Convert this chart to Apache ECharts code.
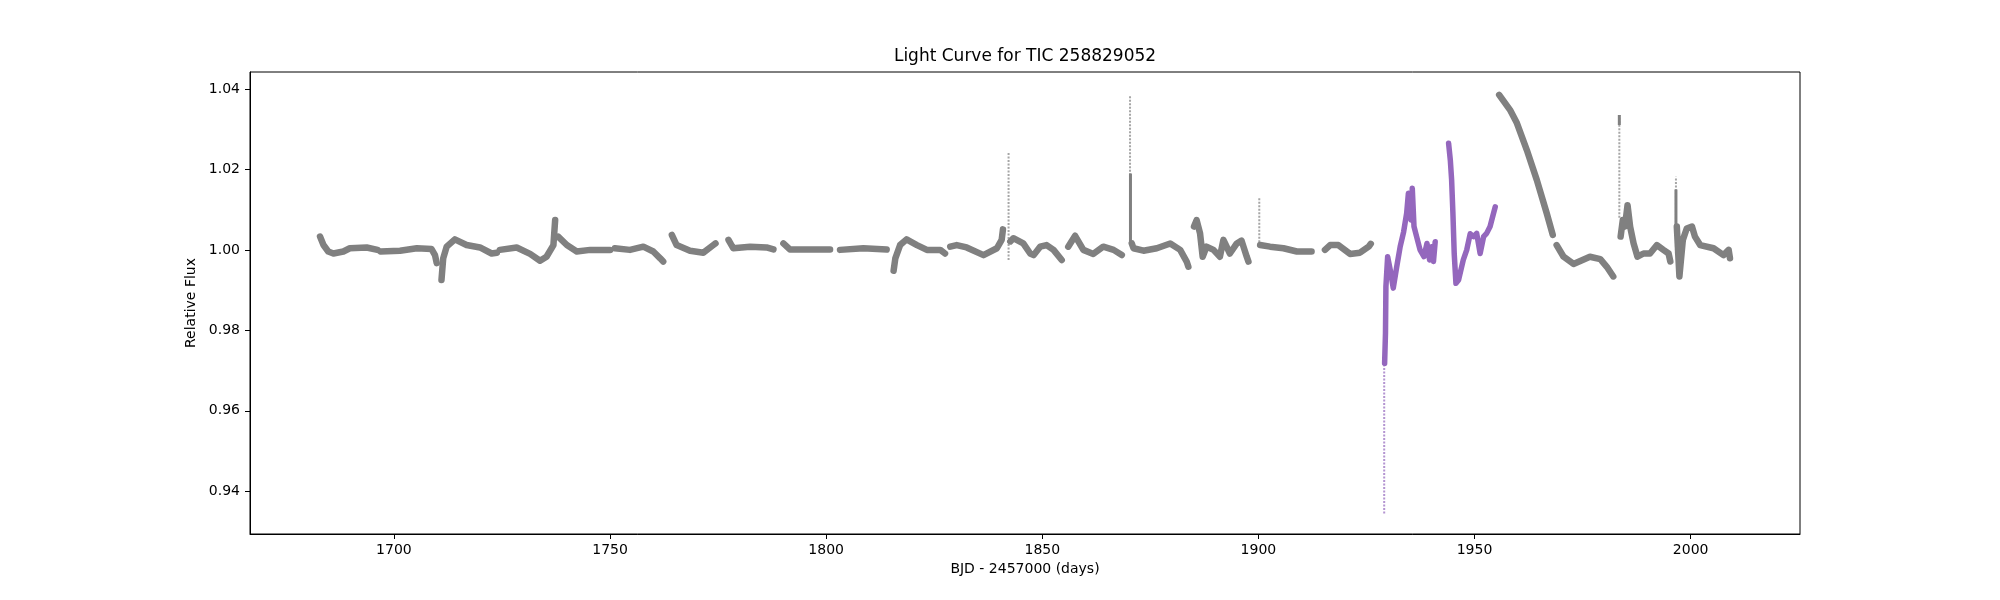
<!DOCTYPE html>
<html>
<head>
<meta charset="utf-8">
<script src="https://cdn.jsdelivr.net/npm/echarts@6/dist/echarts.min.js"></script>
<style>
  html, body { margin: 0; padding: 0; background: #fff; }
  #main { width: 2000px; height: 600px; }
</style>
</head>
<body>
<div id="main"></div>
<script>
// sectors of the light curve, [BJD - 2457000, relative flux]
const segA = [[1682.9, 1.0033], [1683.7, 1.0012], [1684.8, 0.9996], [1686.0, 0.9991], [1688.3, 0.9996], [1689.8, 1.0004], [1693.7, 1.0006], [1696.2, 1.0000]];
const segB = [[1696.9, 0.9996], [1701.4, 0.9998], [1705.3, 1.0004], [1708.7, 1.0002], [1709.5, 0.9987], [1709.9, 0.9967]];
const segC = [[1711.0, 0.9925], [1711.4, 0.9979], [1712.2, 1.0008], [1714.1, 1.0026], [1716.8, 1.0012], [1719.9, 1.0006], [1722.6, 0.9991], [1723.8, 0.9993]];
const segD = [[1724.5, 1.0000], [1728.4, 1.0006], [1731.5, 0.9990], [1733.8, 0.9973], [1735.3, 0.9983], [1736.9, 1.0012], [1737.3, 1.0074]];
const segE = [[1738.0, 1.0033], [1740.0, 1.0012], [1742.3, 0.9996], [1745.4, 1.0000], [1750.0, 1.0000]];
const segF = [[1751.1, 1.0004], [1754.6, 1.0000], [1757.7, 1.0008], [1760.0, 0.9996], [1761.6, 0.9979], [1762.3, 0.9971]];
const segG = [[1764.3, 1.0037], [1765.4, 1.0012], [1768.5, 0.9998], [1771.6, 0.9993], [1773.9, 1.0012], [1774.4, 1.0016]];
const segH = [[1777.4, 1.0025], [1778.5, 1.0004], [1782.4, 1.0008], [1786.2, 1.0006], [1787.8, 1.0001]];
const segI = [[1790.1, 1.0016], [1791.6, 1.0001], [1796.3, 1.0001], [1800.9, 1.0001]];
const segJ = [[1803.2, 1.0000], [1808.6, 1.0004], [1814.0, 1.0001]];
const segK = [[1815.6, 0.9948], [1816.0, 0.9979], [1817.1, 1.0012], [1818.6, 1.0026], [1821.0, 1.0012], [1823.3, 1.0000], [1826.4, 1.0000], [1827.5, 0.9991]];
const segL = [[1828.7, 1.0008], [1830.2, 1.0012], [1832.5, 1.0006], [1836.4, 0.9987], [1839.5, 1.0004], [1840.6, 1.0025], [1840.9, 1.0051]];
const segM = [[1842.6, 1.0021], [1843.3, 1.0029], [1845.6, 1.0016], [1847.2, 0.9991], [1848.0, 0.9987], [1849.5, 1.0008], [1851.0, 1.0012], [1852.6, 1.0000], [1854.5, 0.9975]];
const segN = [[1856.0, 1.0008], [1857.6, 1.0035], [1859.5, 1.0000], [1861.8, 0.9990], [1864.1, 1.0008], [1866.5, 1.0000], [1868.4, 0.9987]];
const segO = [[1870.7, 1.0016], [1871.1, 1.0004], [1873.4, 0.9998], [1876.5, 1.0004], [1879.6, 1.0016], [1881.9, 1.0000], [1883.4, 0.9971], [1883.8, 0.9958]];
const segP = [[1885.1, 1.0058], [1885.7, 1.0074], [1886.5, 1.0041], [1887.1, 0.9983], [1888.0, 1.0008], [1889.6, 1.0000], [1891.1, 0.9983], [1891.9, 1.0025], [1893.4, 0.9991], [1895.0, 1.0016], [1896.1, 1.0023], [1897.3, 0.9983], [1897.7, 0.9971]];
const segQ = [[1900.4, 1.0012], [1902.7, 1.0008], [1905.8, 1.0004], [1908.9, 0.9996], [1912.3, 0.9996]];
const segR = [[1915.4, 1.0000], [1916.6, 1.0012], [1918.5, 1.0012], [1921.2, 0.9990], [1923.5, 0.9993], [1925.5, 1.0008], [1926.0, 1.0015]];
const segT = [[1955.7, 1.0385], [1958.2, 1.0348], [1959.8, 1.0315], [1962.1, 1.0248], [1964.4, 1.0174], [1966.7, 1.0091], [1968.1, 1.0037]];
const segU = [[1969.0, 1.0012], [1970.6, 0.9983], [1972.9, 0.9965], [1976.7, 0.9983], [1979.1, 0.9977], [1980.6, 0.9958], [1982.1, 0.9934]];
const segV = [[1983.8, 1.0033], [1984.3, 1.0074], [1984.8, 1.0058], [1985.4, 1.0111], [1986.0, 1.0058], [1986.8, 1.0016], [1987.7, 0.9983], [1989.1, 0.9991], [1990.6, 0.9991], [1992.2, 1.0012], [1993.7, 1.0000], [1994.9, 0.9991], [1995.3, 0.9971]];
const segW = [[1996.8, 1.0058], [1997.4, 0.9934], [1998.2, 1.0025], [1999.1, 1.0053], [2000.3, 1.0058], [2001.0, 1.0033], [2002.2, 1.0012], [2005.3, 1.0004], [2007.6, 0.9987], [2008.8, 1.0000], [2009.1, 0.9979]];

// the two sectors flagged in purple
const purpleS1 = [[1929.2, 0.9718], [1929.4, 0.9793], [1929.5, 0.9909], [1929.9, 0.9983], [1930.5, 0.9950], [1931.2, 0.9905], [1932.0, 0.9958], [1932.8, 1.0008], [1933.6, 1.0045], [1934.3, 1.0091], [1934.7, 1.0141], [1935.3, 1.0074], [1935.6, 1.0153], [1936.0, 1.0058], [1936.6, 1.0033], [1937.4, 1.0000], [1938.3, 0.9983], [1939.0, 1.0016], [1939.6, 0.9975], [1940.1, 1.0008], [1940.5, 0.9971], [1940.9, 1.0020]];
const purpleS2 = [[1944.0, 1.0265], [1944.4, 1.0223], [1944.7, 1.0174], [1945.0, 1.0091], [1945.3, 0.9991], [1945.7, 0.9917], [1946.3, 0.9925], [1947.4, 0.9975], [1948.2, 1.0000], [1949.0, 1.0040], [1949.8, 1.0033], [1950.5, 1.0041], [1951.3, 0.9991], [1952.1, 1.0033], [1952.8, 1.0041], [1953.6, 1.0058], [1954.4, 1.0091], [1954.8, 1.0107]];

// sparse vertical spikes: [day, low, high]
const graySpikes = [[1842.2, 0.9975, 1.0243], [1870.3, 1.0020, 1.0385], [1900.2, 1.0010, 1.0128], [1983.5, 1.0080, 1.0335], [1996.6, 0.9990, 1.0182]];
const grayDenseSpikes = [[1870.4, 1.0016, 1.0190], [1983.5, 1.0310, 1.0335], [1996.6, 1.0040, 1.0150]];
const purpleSpikes = [[1929.1, 0.9345, 0.9718]];

const xTicks = [1700, 1750, 1800, 1850, 1900, 1950, 2000];
const yTicks = [0.94, 0.96, 0.98, 1.00, 1.02, 1.04];

const GREY = '#808080';
const PURPLE = '#9467bd';
const FONT = 'DejaVu Sans';

const graySegments = [segA, segB, segC, segD, segE, segF, segG, segH, segI, segJ, segK, segL, segM, segN, segO, segP, segQ, segR, segT, segU, segV, segW];
const purpleSegments = [purpleS1, purpleS2];

function bandSeries(seg, color, width) {
  return {
    type: 'line', data: seg, symbol: 'none', silent: true, z: 3,
    lineStyle: { color: color, width: width, cap: 'round', join: 'round' }
  };
}

function spikeSeries(list, color, width, dashed) {
  const data = [];
  list.forEach(function (s) {
    data.push([s[0], s[1]], [s[0], s[2]], null);
  });
  return {
    type: 'line', data: data, symbol: 'none', silent: true, z: 2,
    connectNulls: false,
    lineStyle: { color: color, width: width, type: dashed ? [2, 1.5] : 'solid', opacity: dashed ? 0.7 : 1 }
  };
}

const series = []
  .concat(graySegments.map(function (s) { return bandSeries(s, GREY, 6.5); }))
  .concat(purpleSegments.map(function (s) { return bandSeries(s, PURPLE, 5.5); }));
series.push(spikeSeries(graySpikes, GREY, 2, true));
series.push(spikeSeries(grayDenseSpikes, GREY, 3, false));
series.push(spikeSeries(purpleSpikes, PURPLE, 2, true));

const chart = echarts.init(document.getElementById('main'));
chart.setOption({
  animation: false,
  backgroundColor: '#fff',
  title: {
    text: 'Light Curve for TIC 258829052',
    left: 1025, top: 48, padding: 0, textAlign: 'center',
    textStyle: { fontFamily: FONT, fontSize: 17, fontWeight: 'normal', color: '#000' }
  },
  grid: { left: 250, right: 200, top: 72, bottom: 66, show: true, borderColor: '#000', borderWidth: 1 },
  xAxis: {
    type: 'value', min: 1666.7, max: 2025.3,
    name: 'BJD - 2457000 (days)', nameLocation: 'middle', nameGap: 28,
    nameTextStyle: { fontFamily: FONT, fontSize: 14, color: '#000' },
    axisLine: { show: true, onZero: false, lineStyle: { color: '#000', width: 1 } },
    axisTick: { show: true, length: 5, lineStyle: { color: '#000' }, customValues: xTicks },
    axisLabel: {
      fontFamily: FONT, fontSize: 14, color: '#000', margin: 9, customValues: xTicks,
      formatter: function (v) { return String(Math.round(v)); }
    },
    splitLine: { show: false }
  },
  yAxis: {
    type: 'value', min: 0.9294, max: 1.0442,
    name: 'Relative Flux', nameLocation: 'middle', nameGap: 47, nameRotate: 90,
    nameTextStyle: { fontFamily: FONT, fontSize: 14, color: '#000' },
    axisLine: { show: true, onZero: false, lineStyle: { color: '#000', width: 1 } },
    axisTick: { show: true, length: 5, lineStyle: { color: '#000' }, customValues: yTicks },
    axisLabel: {
      fontFamily: FONT, fontSize: 14, color: '#000', margin: 10, customValues: yTicks,
      formatter: function (v) { return v.toFixed(2); }
    },
    splitLine: { show: false }
  },
  series: series
});
</script>
</body>
</html>
